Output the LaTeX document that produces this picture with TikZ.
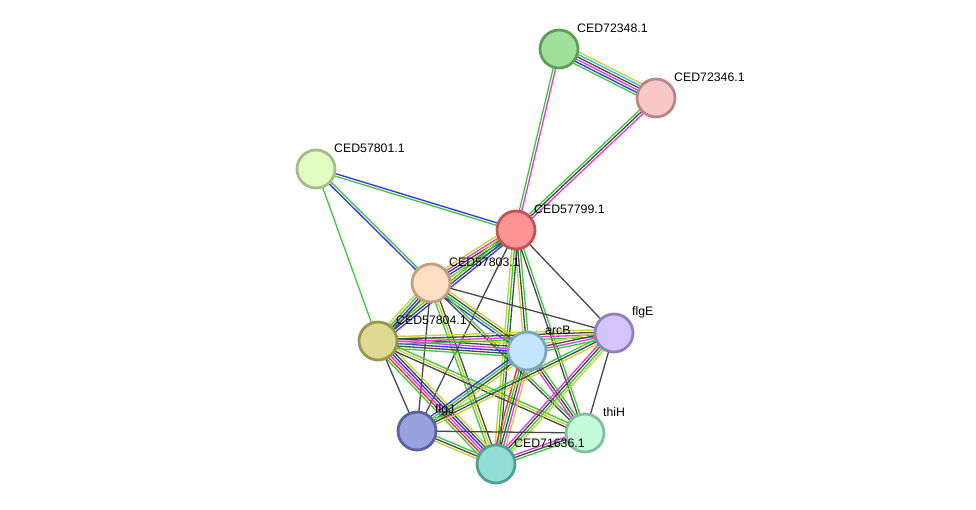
\documentclass[tikz,border=0pt]{standalone}
\usepackage{fontspec}
\setmainfont{Liberation Sans}
\usetikzlibrary{calc,backgrounds}
\definecolor{eG}{HTML}{3CC83C}
\definecolor{eR}{HTML}{F52A2A}
\definecolor{eB}{HTML}{3232F0}
\definecolor{eK}{HTML}{474747}
\definecolor{eM}{HTML}{DC3CDC}
\definecolor{eC}{HTML}{3CB4E0}
\definecolor{eY}{HTML}{C4D22C}
\newcommand\stredge[3]{%
  \foreach \cc [count=\ii] in {#3} {\xdef\ncount{\ii}}%
  \foreach \cc [count=\ii] in {#3} {%
    \pgfmathsetmacro\off{(\ii-(\ncount+1)/2)*2.5}%
    \draw[edgeline, draw=\cc] ($(#1)!\off pt!90:(#2)$) -- ($(#2)!\off pt!-90:(#1)$);
  }}
\tikzset{
  prot/.style={circle, minimum size=38pt, inner sep=0pt, line width=2.8pt},
  edgeline/.style={line width=1.3pt},
  lbl/.style={anchor=west, inner sep=1pt, font=\fontsize{12.3}{14}\selectfont}
}
\begin{document}
\begin{tikzpicture}[x=1pt,y=-1pt]
\path[use as bounding box] (0,0) rectangle (976,510);
\node[prot, fill={rgb,255:red,160;green,224;blue,154}, draw={rgb,255:red,94;green,158;blue,88}] (n72348) at (559,49) {};
\node[prot, fill={rgb,255:red,248;green,200;blue,200}, draw={rgb,255:red,184;green,136;blue,136}] (n72346) at (656,98) {};
\node[prot, fill={rgb,255:red,226;green,252;blue,196}, draw={rgb,255:red,168;green,188;blue,138}] (n57801) at (316,169) {};
\node[prot, fill={rgb,255:red,255;green,148;blue,148}, draw={rgb,255:red,192;green,85;blue,85}] (n57799) at (516,230) {};
\node[prot, fill={rgb,255:red,254;green,223;blue,194}, draw={rgb,255:red,192;green,160;blue,128}] (n57803) at (431,283) {};
\node[prot, fill={rgb,255:red,222;green,218;blue,146}, draw={rgb,255:red,154;green,150;blue,80}] (n57804) at (378,341) {};
\node[prot, fill={rgb,255:red,194;green,230;blue,252}, draw={rgb,255:red,126;green,166;blue,188}] (arcB) at (527,351) {};
\node[prot, fill={rgb,255:red,212;green,196;blue,252}, draw={rgb,255:red,144;green,128;blue,192}] (flgE) at (614,333) {};
\node[prot, fill={rgb,255:red,152;green,162;blue,222}, draw={rgb,255:red,88;green,99;blue,158}] (flgJ) at (417,431) {};
\node[prot, fill={rgb,255:red,194;green,252;blue,218}, draw={rgb,255:red,128;green,192;blue,158}] (thiH) at (585,433) {};
\node[prot, fill={rgb,255:red,146;green,222;blue,212}, draw={rgb,255:red,82;green,158;blue,148}] (n71636) at (496,464) {};
\begin{scope}[on background layer]
\fill[white] (0,0) rectangle (976,510);
\stredge{n72348}{n72346}{eG,eB,eM,eK,eC,eY}
\stredge{n72348}{n57799}{eG,eM}
\stredge{n72346}{n57799}{eG,eK,eM}
\stredge{n57801}{n57799}{eG,eB}
\stredge{n57801}{n57803}{eB,eG}
\stredge{n57801}{n57804}{eG}
\stredge{n57799}{n57803}{eY,eM,eK,eB,eG}
\stredge{n57799}{n57804}{eY,eG,eK,eB}
\stredge{n57799}{arcB}{eY,eK,eG}
\stredge{n57799}{flgE}{eK}
\stredge{n57799}{thiH}{eK,eG}
\stredge{n57799}{n71636}{eY,eG,eK}
\stredge{n57799}{flgJ}{eK}
\stredge{n57803}{flgE}{eK}
\stredge{n57803}{n57804}{eY,eG,eB,eK}
\stredge{n57803}{arcB}{eB,eG,eK,eY}
\stredge{n57803}{thiH}{eK,eG}
\stredge{n57803}{n71636}{eG,eY,eK}
\stredge{n57803}{flgJ}{eK}
\stredge{n57804}{arcB}{eG,eK,eB,eM,eK,eY}
\stredge{n57804}{flgE}{eG,eM,eK,eY}
\stredge{n57804}{flgJ}{eK}
\stredge{n57804}{n71636}{eG,eR,eM,eB,eK,eY}
\stredge{n57804}{thiH}{eK,eY,eG}
\stredge{arcB}{flgE}{eG,eM,eK,eY}
\stredge{arcB}{flgJ}{eB,eG,eK,eY}
\stredge{arcB}{n71636}{eR,eG,eK,eM,eY}
\stredge{arcB}{thiH}{eM,eK,eG}
\stredge{flgE}{flgJ}{eG,eK,eY}
\stredge{flgE}{n71636}{eM,eK,eG,eY}
\stredge{flgE}{thiH}{eK}
\stredge{flgJ}{n71636}{eY,eK,eG}
\stredge{flgJ}{thiH}{eK}
\stredge{thiH}{n71636}{eM,eK,eG}
\end{scope}
\node[lbl] (l72348) at (576,28) {CED72348.1};
\node[lbl] (l72346) at (673,77) {CED72346.1};
\node[lbl] (l57801) at (333,148) {CED57801.1};
\node[lbl] (l57799) at (533,209) {CED57799.1};
\node[lbl] (l57803) at (448,262) {CED57803.1};
\node[lbl] (l57804) at (395,320) {CED57804.1};
\node[lbl] (larcB) at (544,330) {arcB};
\node[lbl] (lflgE) at (631,312) {flgE};
\node[lbl] (lflgJ) at (434,410) {flgJ};
\node[lbl] (lthiH) at (602,412) {thiH};
\node[lbl] (l71636) at (513,443) {CED71636.1};
\end{tikzpicture}
\end{document}
